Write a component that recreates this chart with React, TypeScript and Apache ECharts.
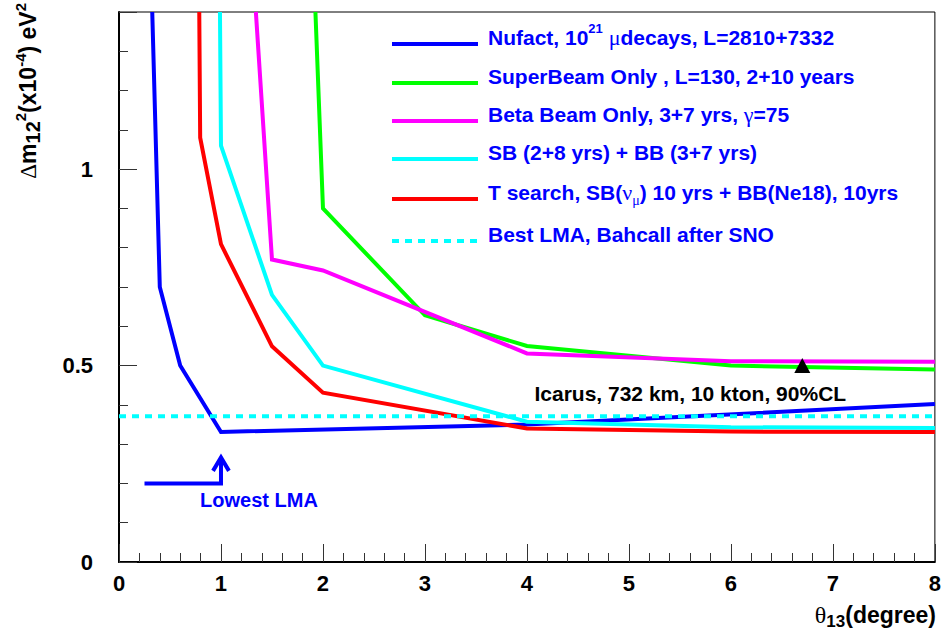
import React, { useEffect, useRef } from 'react';
import * as echarts from 'echarts';

const FONT = '"Liberation Sans", Arial, Helvetica, sans-serif';
const SYM = '"Liberation Serif", "DejaVu Serif", serif';

// ---- data (x: theta13 in degrees, y: dm12^2 in 1e-4 eV^2) ----
const nufact = [[0.326, 1.4], [0.4, 0.70], [0.6, 0.50], [1.0, 0.331], [4.0, 0.35], [8.0, 0.402]];
const superBeam = [[1.926, 1.4], [2.0, 0.90], [3.0, 0.628], [4.0, 0.55], [6.0, 0.50], [8.0, 0.49]];
const betaBeam = [[1.342, 1.4], [1.5, 0.77], [2.0, 0.742], [4.0, 0.531], [6.0, 0.511], [8.0, 0.51]];
const sbPlusBb = [[0.99, 1.4], [1.0, 1.06], [1.5, 0.68], [2.0, 0.50], [4.0, 0.357], [6.0, 0.343], [8.0, 0.341]];
const tSearch = [[0.787, 1.4], [0.796, 1.08], [1.0, 0.809], [1.5, 0.549], [2.0, 0.431], [4.0, 0.34], [6.0, 0.332], [8.0, 0.331]];
const bestLMA = [[0, 0.371], [8, 0.371]];
const icarus = [[6.7, 0.5]];
const lowestArrowShaft = [[0.25, 0.2], [1.0, 0.2], [1.0, 0.262]];
const lowestArrowHead = [[0.922, 0.232], [1.0, 0.266], [1.078, 0.232]];

const seriesNames = ['Nufact', 'SuperBeam Only', 'Beta Beam Only', 'SB + BB', 'T search', 'Best LMA'];
const seriesData = [nufact, superBeam, betaBeam, sbPlusBb, tSearch, bestLMA];
const seriesColors = ['#0000ff', '#00ff00', '#ff00ff', '#00ffff', '#ff0000', '#00ffff'];
const legendLabels = [
  'Nufact, 10{sup|21} {sym|μ}decays, L=2810+7332',
  'SuperBeam Only , L=130, 2+10 years',
  'Beta Beam Only, 3+7 yrs, {sym|γ}=75',
  'SB (2+8 yrs) + BB (3+7 yrs)',
  'T search, SB({sym|ν}{subsym|μ}) 10 yrs + BB(Ne18), 10yrs',
  'Best LMA, Bahcall after SNO',
];
const icarusLabel = 'Icarus, 732 km, 10 kton, 90%CL';
const lowestLabel = 'Lowest LMA';
const yTitle = '{sym|Δ}m{sub|12}{sup|2}(x10{sup|-4}) eV{sup|2}';
const xTitle = '{sym|θ}{sub|13}(degree)';

const legendRowY = [44, 83, 121, 159, 199, 241];

function richFor(fill: string, base: number, supSize: number, subSize: number) {
  return {
    sup: { fontSize: supSize, fontWeight: 'bold', fontFamily: FONT, fill, verticalAlign: 'top', lineHeight: 14 },
    sub: { fontSize: subSize, fontWeight: 'bold', fontFamily: FONT, fill, verticalAlign: 'bottom', lineHeight: 10 },
    sym: { fontSize: base + 1, fontWeight: 'normal', fontFamily: SYM, fill, lineHeight: 30 },
    subsym: { fontSize: 14, fontWeight: 'normal', fontFamily: SYM, fill, verticalAlign: 'bottom', lineHeight: 10 },
  };
}

export default function App() {
  const ref = useRef<HTMLDivElement>(null);
  useEffect(() => {
    if (!ref.current) return;
    const chart = echarts.init(ref.current, null, { renderer: 'svg' });

    const lineSeries: any[] = seriesData.map((d, i) => ({
      name: seriesNames[i],
      type: 'line',
      data: d,
      symbol: 'none',
      clip: true,
      lineStyle: { color: seriesColors[i], width: 4, type: i === 5 ? [7, 6] : 'solid', join: 'miter' },
      itemStyle: { color: seriesColors[i] },
      z: 2 + i,
    }));

    const graphic: any[] = [];
    legendRowY.forEach((y, i) => {
      graphic.push({
        type: 'line',
        shape: { x1: 392, y1: y, x2: 478, y2: y },
        style: { stroke: seriesColors[i], lineWidth: 4, lineDash: i === 5 ? [7, 6] : null },
        z: 10,
      });
      graphic.push({
        type: 'text',
        x: 488,
        y: y - 7,
        style: {
          text: legendLabels[i],
          fill: '#0000ff',
          fontSize: 21,
          fontWeight: 'bold',
          fontFamily: FONT,
          align: 'left',
          verticalAlign: 'middle',
          lineHeight: 30,
          rich: richFor('#0000ff', 21, 13, 16),
        },
        z: 10,
      });
    });
    graphic.push({
      type: 'text',
      x: 259,
      y: 500,
      style: { text: lowestLabel, fill: '#0000ff', fontSize: 20, fontWeight: 'bold', fontFamily: FONT, align: 'center', verticalAlign: 'middle' },
      z: 10,
    });
    graphic.push({
      type: 'text',
      x: 28,
      y: 3,
      rotation: Math.PI / 2,
      style: {
        text: yTitle, fill: '#000', fontSize: 23, fontWeight: 'bold', fontFamily: FONT,
        align: 'right', verticalAlign: 'middle', lineHeight: 30, rich: richFor('#000', 22, 15, 20),
      },
      z: 10,
    });
    graphic.push({
      type: 'text',
      x: 936,
      y: 615,
      style: {
        text: xTitle, fill: '#000', fontSize: 23, fontWeight: 'bold', fontFamily: FONT,
        align: 'right', verticalAlign: 'middle', lineHeight: 30, rich: richFor('#000', 23, 14, 17),
      },
      z: 10,
    });

    const axisCommon = {
      type: 'value',
      axisLine: { show: true, lineStyle: { color: '#000', width: 2 } },
      axisTick: { show: true, inside: true, length: 18, lineStyle: { color: '#333', width: 1 } },
      minorTick: { show: true, splitNumber: 5, length: 9, lineStyle: { color: '#333', width: 1 } },
      splitLine: { show: false },
      minorSplitLine: { show: false },
    };

    chart.setOption({
      animation: false,
      backgroundColor: '#fff',
      grid: { left: 119, top: 12, right: 8, bottom: 78, show: true, borderColor: '#000', borderWidth: 1, backgroundColor: '#fff' },
      xAxis: {
        ...axisCommon,
        min: 0, max: 8, interval: 1,
        axisLabel: { fontSize: 22, fontWeight: 'bold', color: '#000', fontFamily: FONT, margin: 10 },
      },
      yAxis: {
        ...axisCommon,
        min: 0, max: 1.4, interval: 0.5,
        axisLabel: { fontSize: 22, fontWeight: 'bold', color: '#000', fontFamily: FONT, margin: 26, showMaxLabel: false },
      },
      series: [
        ...lineSeries,
        {
          name: 'Lowest LMA arrow',
          type: 'line',
          data: lowestArrowShaft,
          symbol: 'none',
          lineStyle: { color: '#0000ff', width: 4, join: 'miter' },
          z: 9,
        },
        {
          name: 'Lowest LMA arrow head',
          type: 'line',
          data: lowestArrowHead,
          symbol: 'none',
          lineStyle: { color: '#0000ff', width: 4, join: 'miter' },
          z: 9,
        },
        {
          name: 'Icarus',
          type: 'scatter',
          data: icarus,
          symbol: 'triangle',
          symbolSize: [16, 15],
          itemStyle: { color: '#000', opacity: 1 },
          z: 12,
          label: {
            show: true,
            position: 'inside',
            offset: [-112, 28],
            formatter: icarusLabel,
            color: '#000',
            opacity: 1,
            textBorderWidth: 0,
            fontSize: 21,
            fontWeight: 'bold',
            fontFamily: FONT,
          },
        },
      ],
      graphic,
    });
    return () => chart.dispose();
  }, []);
  return <div ref={ref} style={{ position: 'fixed', left: 0, top: 0, width: 944, height: 640, background: '#fff' }} />;
}
